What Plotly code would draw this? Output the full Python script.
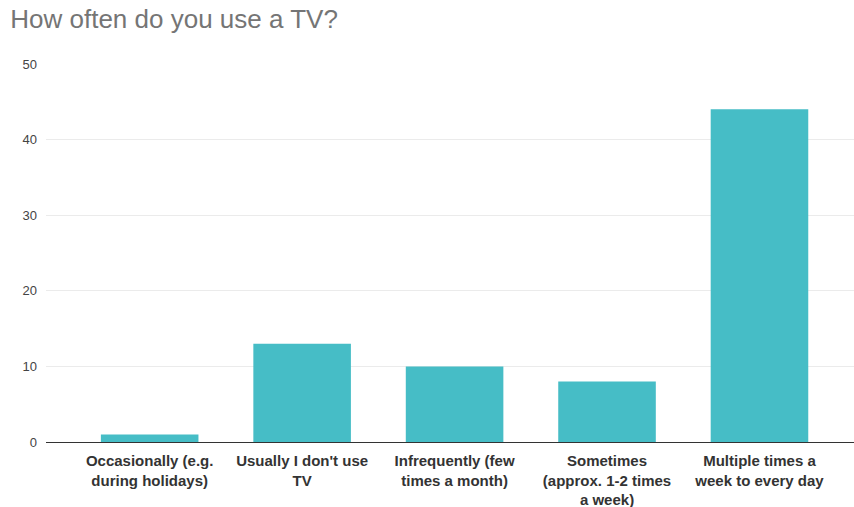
import plotly.graph_objects as go

categories = [
    "Occasionally (e.g.<br>during holidays)",
    "Usually I don't use<br>TV",
    "Infrequently (few<br>times a month)",
    "Sometimes<br>(approx. 1-2 times<br>a week)",
    "Multiple times a<br>week to every day",
]
values = [1, 13, 10, 8, 44]
y_ticks = [0, 10, 20, 30, 40, 50]

fig = go.Figure(go.Bar(
    x=list(range(len(categories))), y=values,
    marker=dict(color="#46BDC6", line=dict(width=0)),
    width=0.64,
))

fig.update_layout(
    width=854, height=507,
    margin=dict(l=46, r=0, t=64, b=65),
    paper_bgcolor="white", plot_bgcolor="white",
    title=dict(text="How often do you use a TV?", x=0.012, xanchor="left",
               y=0.962, yanchor="middle",
               font=dict(family="Liberation Sans, Arial", size=26, color="#757575")),
    showlegend=False,
    font=dict(family="Liberation Sans, Arial"),
)
fig.update_xaxes(
    tickmode="array", tickvals=list(range(len(categories))), ticktext=categories,
    range=[-0.68, 4.62], showgrid=False, zeroline=False,
    showline=False, ticks="", tickangle=0, ticklabelstandoff=8,
    tickfont=dict(family="Liberation Sans, Arial", size=15, color="#333333", weight="bold"),
)
fig.update_yaxes(
    range=[0, 50], tickvals=y_ticks, showgrid=True, gridcolor="#ebebeb",
    zeroline=True, zerolinecolor="#333333", zerolinewidth=1,
    tickfont=dict(family="Liberation Sans, Arial", size=13, color="#444444"),
    ticklabelstandoff=8,
)
fig.write_html("out.html")
